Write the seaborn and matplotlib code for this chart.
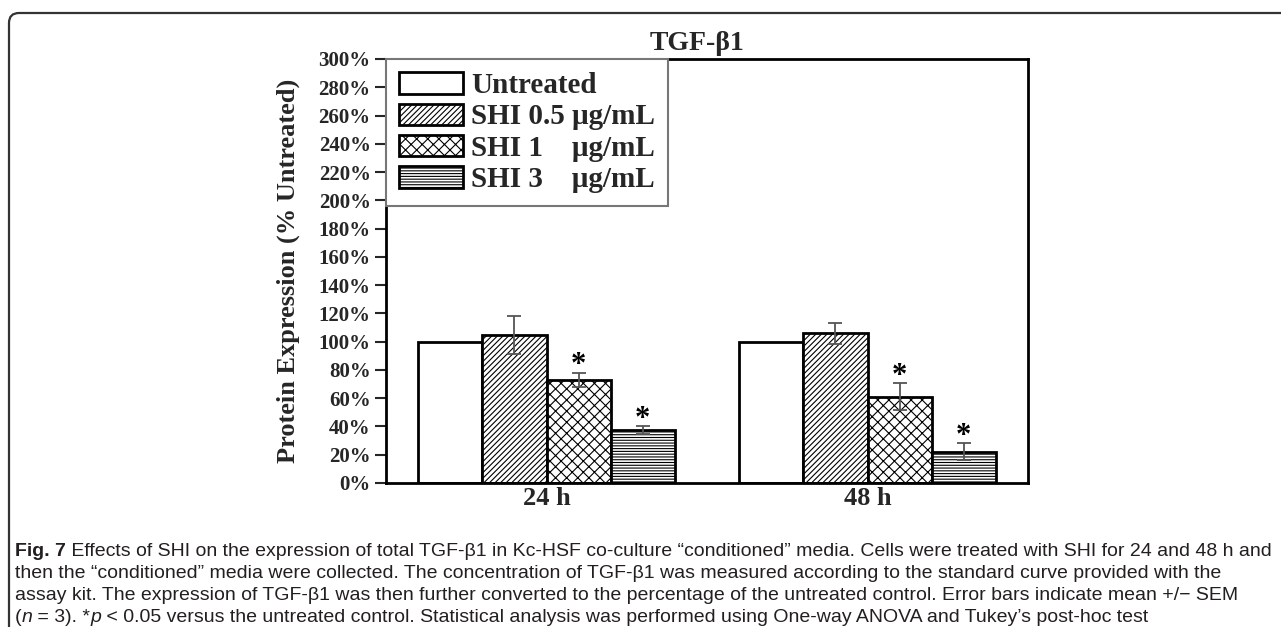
"""TGF-beta1 protein expression bar chart (Fig. 7 style)."""

import matplotlib

matplotlib.use("Agg")
import matplotlib.pyplot as plt
import pandas as pd
import seaborn as sns
from matplotlib.patches import FancyBboxPatch

# --- data ---
times = ["24 h", "48 h"]
treatments = ["Untreated", "SHI 0.5 μg/mL", "SHI 1    μg/mL", "SHI 3    μg/mL"]
mean_24h = [100, 105, 73, 37.5]
mean_48h = [100, 106, 61, 22]
sem_24h = [0, 13.5, 5, 2.5]
sem_48h = [0, 7.5, 9.5, 6]
signif_24h = [False, False, True, True]
signif_48h = [False, False, True, True]
y_ticks = list(range(0, 301, 20))

caption_lines = [
    [("Fig. 7", "bold"), (" Effects of SHI on the expression of total TGF-β1 in Kc-HSF co-culture “conditioned” media. "
                          "Cells were treated with SHI for 24 and 48 h and", "normal")],
    [("then the “conditioned” media were collected. The concentration of TGF-β1 was measured according to "
      "the standard curve provided with the", "normal")],
    [("assay kit. The expression of TGF-β1 was then further converted to the percentage of the untreated "
      "control. Error bars indicate mean +/− SEM", "normal")],
    [("(", "normal"), ("n", "italic"), (" = 3). *", "normal"), ("p", "italic"),
     (" < 0.05 versus the untreated control. Statistical analysis was performed using One-way ANOVA "
      "and Tukey’s post-hoc test", "normal")],
]

hatches = ["", "//////", "xxx", "------"]

W, H = 1281, 627
SERIF = ["Liberation Serif", "DejaVu Serif"]
CAPTION_FONT = ["Liberation Sans", "DejaVu Sans"]

sns.set_theme(style="white")
plt.rcParams["font.family"] = SERIF
plt.rcParams["hatch.linewidth"] = 0.8
plt.rcParams["hatch.color"] = "#222222"

df = pd.DataFrame({
    "time": [t for t in times for _ in treatments],
    "treatment": treatments * len(times),
    "value": mean_24h + mean_48h,
    "sem": sem_24h + sem_48h,
    "signif": signif_24h + signif_48h,
})

fig = plt.figure(figsize=(W / 100, H / 100), dpi=100)
ax = fig.add_axes([386 / W, 1 - 483 / H, (1028 - 386) / W, (483 - 59) / H])

sns.barplot(data=df, x="time", y="value", hue="treatment", order=times, hue_order=treatments,
            palette=["white"] * len(treatments), saturation=1, edgecolor="black", linewidth=2,
            width=0.8, gap=0, errorbar=None, legend=False, ax=ax)

bar_containers = list(ax.containers)
for container, hatch, label in zip(bar_containers, hatches, treatments):
    for bar in container:
        bar.set_hatch(hatch)
    sub = df[df["treatment"] == label].set_index("time").loc[times]
    xs = [b.get_x() + b.get_width() / 2 for b in container]
    for x, (_, row) in zip(xs, sub.iterrows()):
        if row["sem"] > 0:
            ax.errorbar(x, row["value"], yerr=row["sem"], fmt="none", ecolor="#555555",
                        elinewidth=1.3, capsize=5, capthick=1.3, zorder=5)
        if row["signif"]:
            ax.annotate("*", xy=(x, row["value"] + row["sem"]), xytext=(0, 5),
                        textcoords="offset points", ha="center", va="center",
                        fontsize=22, fontweight="bold", color="black")

ax.set_xlim(-0.5, 1.5)
ax.set_ylim(0, 300)
ax.set_yticks(y_ticks)
ax.set_yticklabels([f"{v}%" for v in y_ticks])
ax.set_xlabel("")
ax.set_ylabel("Protein Expression (% Untreated)", fontsize=19, fontweight="bold")
ax.yaxis.set_label_coords((300 - 386) / 642, 0.5)
ax.tick_params(axis="y", direction="out", length=8, width=1.5, labelsize=15, pad=3, left=True)
ax.tick_params(axis="x", length=0, labelsize=19, pad=3)
for lab in ax.get_xticklabels() + ax.get_yticklabels():
    lab.set_fontweight("bold")
for spine in ax.spines.values():
    spine.set_linewidth(2)
    spine.set_color("black")

# legend frame shares the top-left corner of the axes box
leg = ax.legend(handles=[c.patches[0] for c in bar_containers], labels=treatments,
                loc="upper left", bbox_to_anchor=(0, 1), borderaxespad=0,
                prop={"family": SERIF, "weight": "bold", "size": 21},
                frameon=True, fancybox=False, framealpha=1, edgecolor="#777777",
                handlelength=2.2, handleheight=0.74, handletextpad=0.28,
                labelspacing=0.15, borderpad=0.45)
leg.get_frame().set_linewidth(1.5)

fig.text(697 / W, 1 - 44 / H, "TGF-β1", ha="center", va="center", fontsize=20,
         fontweight="bold", family=SERIF)

# caption, drawn run by run so bold / italic parts sit inline
renderer = fig.canvas.get_renderer()
for i, runs in enumerate(caption_lines):
    x_px = 15
    y_frac = 1 - (552 + i * 22) / H
    for text, style in runs:
        t = fig.text(x_px / W, y_frac, text, ha="left", va="center", fontsize=14,
                     family=CAPTION_FONT, color="#231f20",
                     fontweight="bold" if style == "bold" else "normal",
                     fontstyle="italic" if style == "italic" else "normal")
        x_px = t.get_window_extent(renderer).x1

# rounded outer frame running off the right and bottom edges
frame = FancyBboxPatch((0.09, -0.5), 14.0, 6.14 + 0.5, boxstyle="round,pad=0,rounding_size=0.1",
                       transform=fig.dpi_scale_trans, fill=False, linewidth=1.6, edgecolor="#333333")
fig.add_artist(frame)

fig.savefig("out.png", dpi=100)
